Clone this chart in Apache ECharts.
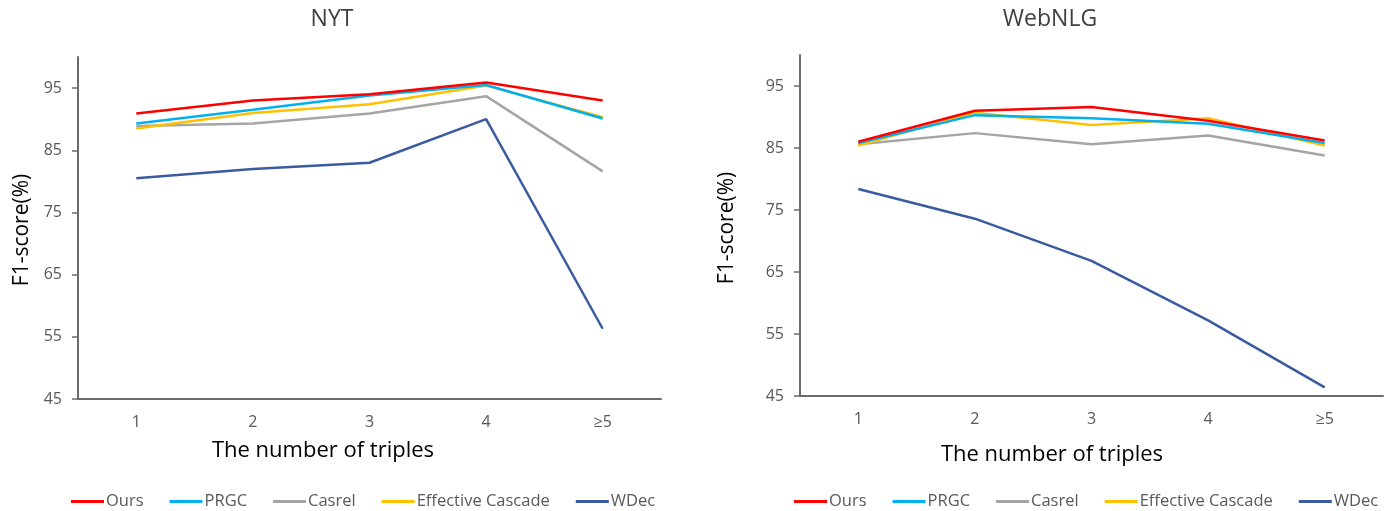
<!DOCTYPE html>
<html>
<head>
<meta charset="utf-8">
<script src="https://cdn.jsdelivr.net/npm/echarts@6/dist/echarts.min.js"></script>
<style>
html,body{margin:0;padding:0;background:#fff;}
#c{width:1394px;height:511px;}
</style>
</head>
<body>
<div id="c"></div>
<script>
var categories = ['1', '2', '3', '4', '≥5'];
var yTicks = [45, 55, 65, 75, 85, 95];
var seriesNames = ['Ours', 'PRGC', 'Casrel', 'Effective Cascade', 'WDec'];

var nytOurs   = [90.9, 93.0, 94.0, 95.9, 93.0];
var nytPRGC   = [89.3, 91.5, 93.8, 95.5, 90.1];
var nytCasrel = [88.9, 89.3, 90.9, 93.7, 81.6];
var nytEC     = [88.5, 91.0, 92.4, 95.4, 90.3];
var nytWDec   = [80.5, 82.0, 83.0, 90.0, 56.3];

var webOurs   = [86.0, 91.0, 91.6, 89.4, 86.2];
var webPRGC   = [85.8, 90.3, 89.8, 88.9, 85.8];
var webCasrel = [85.6, 87.4, 85.6, 87.0, 83.8];
var webEC     = [85.4, 90.7, 88.7, 89.8, 85.4];
var webWDec   = [78.4, 73.6, 66.8, 57.2, 46.4];

var colors = ['#FF0000', '#00B0F0', '#A5A5A5', '#FFC000', '#3A5BA0'];
var FONT = '"Open Sans", "Noto Sans", sans-serif';
var AX = '#6b6b6b';
var LBL = '#595959';

var nytData = [nytOurs, nytPRGC, nytCasrel, nytEC, nytWDec];
var webData = [webOurs, webPRGC, webCasrel, webEC, webWDec];
var zOrder = [10, 9, 6, 8, 5];

function xAxis(gi) {
  return {
    type: 'category', gridIndex: gi, data: categories, boundaryGap: true,
    axisLine: {lineStyle: {color: AX, width: 2}},
    axisTick: {alignWithLabel: true, length: 5, lineStyle: {color: '#333', width: 1.5}},
    axisLabel: {color: LBL, fontSize: 16, fontFamily: FONT, margin: 15}
  };
}
function yAxis(gi) {
  return {
    type: 'value', gridIndex: gi, min: 45, max: 100, interval: 10,
    splitLine: {show: false},
    axisLine: {show: true, lineStyle: {color: AX, width: 2}},
    axisTick: {show: true, length: 6, customValues: yTicks, lineStyle: {color: AX, width: 1.5}},
    axisLabel: {color: LBL, fontSize: 16, fontFamily: FONT, margin: 16, customValues: yTicks}
  };
}
var series = [];
[nytData, webData].forEach(function (set, gi) {
  set.forEach(function (vals, i) {
    series.push({
      name: seriesNames[i], type: 'line', xAxisIndex: gi, yAxisIndex: gi,
      data: vals, showSymbol: false, symbol: 'none', z: zOrder[i],
      lineStyle: {color: colors[i], width: 2.5},
      itemStyle: {color: colors[i]},
      animation: false
    });
  });
});
function legend(left) {
  return {
    left: left, top: 493, padding: 0, icon: 'rect', itemWidth: 33, itemHeight: 3, itemGap: 26,
    data: seriesNames,
    textStyle: {color: LBL, fontSize: 16.5, fontFamily: FONT, padding: [0, 0, 0, -3]}
  };
}
var chart = echarts.init(document.getElementById('c'));
chart.setOption({
  backgroundColor: '#fff',
  color: colors,
  animation: false,
  title: [
    {text: 'NYT', left: 327, top: 3, textAlign: 'center', textStyle: {fontSize: 23, fontWeight: 'normal', color: '#404040', fontFamily: FONT}},
    {text: 'WebNLG', left: 1045, top: 3, textAlign: 'center', textStyle: {fontSize: 23, fontWeight: 'normal', color: '#404040', fontFamily: FONT}}
  ],
  grid: [
    {left: 78, top: 57, width: 583, height: 342},
    {left: 800, top: 55, width: 583, height: 341}
  ],
  xAxis: [xAxis(0), xAxis(1)],
  yAxis: [yAxis(0), yAxis(1)],
  legend: [legend(71), legend(794)],
  series: series,
  graphic: [
    {type: 'text', x: 22, y: 230, rotation: Math.PI / 2, style: {text: 'F1-score(%)', fill: '#000', fontSize: 21, fontFamily: FONT, align: 'center', verticalAlign: 'middle'}},
    {type: 'text', x: 727, y: 228, rotation: Math.PI / 2, style: {text: 'F1-score(%)', fill: '#000', fontSize: 21, fontFamily: FONT, align: 'center', verticalAlign: 'middle'}},
    {type: 'text', x: 323, y: 451, style: {text: 'The number of triples', fill: '#000', fontSize: 22, fontFamily: FONT, align: 'center', verticalAlign: 'middle'}},
    {type: 'text', x: 1052, y: 455, style: {text: 'The number of triples', fill: '#000', fontSize: 22, fontFamily: FONT, align: 'center', verticalAlign: 'middle'}}
  ]
});
</script>
</body>
</html>
